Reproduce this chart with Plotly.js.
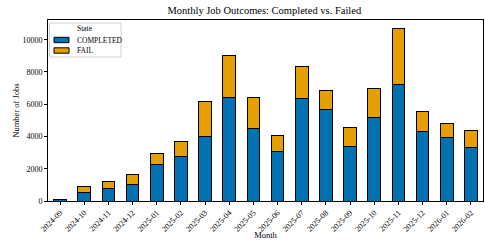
<!DOCTYPE html>
<html>
<head>
<meta charset="utf-8">
<script src="https://cdn.plot.ly/plotly-3.0.1.min.js"></script>
<style>html,body{margin:0;padding:0;background:#fff;}#chart{width:485px;height:240px;}</style>
</head>
<body>
<div id="chart"></div>
<script>
const months = ["2024-09","2024-10","2024-11","2024-12","2025-01","2025-02","2025-03","2025-04","2025-05","2025-06","2025-07","2025-08","2025-09","2025-10","2025-11","2025-12","2026-01","2026-02"];
const completed = [95,510,785,1030,2270,2745,3980,6410,4510,3070,6330,5650,3380,5200,7235,4290,3960,3340];
const failed = [25,375,450,600,680,925,2160,2600,1880,990,1990,1215,1195,1745,3440,1235,820,1030];
const yTicks = [0,2000,4000,6000,8000,10000];
const seriesNames = ["COMPLETED","FAIL"];
const seriesColors = ["#0072B2","#E69F00"];

const font = "Liberation Serif, Times New Roman, serif";
const M = {l:48, r:2, t:20, b:39};
const W = 485, H = 240;
const pw = W - M.l - M.r, ph = H - M.t - M.b;
const px = v => (v - M.l) / pw;
const py = v => (H - M.b - v) / ph;

const traces = [completed, failed].map((vals, i) => ({
  type:"bar", name:seriesNames[i], x:months, y:vals, width:0.53,
  marker:{color:seriesColors[i], line:{color:"#000", width:1}}
}));

// hand-drawn compact legend (matplotlib style)
const shapes = [
  {type:"rect", xref:"paper", yref:"paper", x0:px(49.5), x1:px(121), y0:py(23), y1:py(57),
   line:{color:"#d0d0d0", width:1}, fillcolor:"rgba(255,255,255,0.85)", layer:"above"}
];
const annotations = [
  {xref:"paper", yref:"paper", x:px(85), y:py(29), text:"State", showarrow:false,
   xanchor:"center", yanchor:"middle", font:{family:font, size:7.5, color:"#000"}}
];
seriesNames.forEach((n, i) => {
  const yc = 40 + i * 10.5;
  shapes.push({type:"rect", xref:"paper", yref:"paper", x0:px(54), x1:px(69), y0:py(yc-2.7), y1:py(yc+2.7),
    line:{color:"#000", width:1}, fillcolor:seriesColors[i], layer:"above"});
  annotations.push({xref:"paper", yref:"paper", x:px(75), y:py(yc), text:n, showarrow:false,
    xanchor:"left", yanchor:"middle", font:{family:font, size:7.5, color:"#000"}});
});

const layout = {
  width:W, height:H,
  margin:M,
  barmode:"stack",
  showlegend:false,
  paper_bgcolor:"#fff", plot_bgcolor:"#fff",
  font:{family:font, size:8, color:"#000"},
  title:{text:"Monthly Job Outcomes: Completed vs. Failed", font:{family:font, size:10.5, color:"#000"}, x:0.545, xanchor:"center", y:0.955, yanchor:"middle"},
  xaxis:{type:"category", range:[-0.5,17.5], tickangle:-45, ticks:"outside", ticklen:3, tickcolor:"#000",
         showline:true, mirror:true, linecolor:"#000", linewidth:1, showgrid:false,
         tickfont:{family:font, size:8},
         title:{text:"Month", font:{family:font, size:8.5}, standoff:0}},
  yaxis:{range:[0,11221], tickvals:yTicks, ticktext:yTicks.map(String), ticks:"outside", ticklen:3, tickcolor:"#000",
         showline:true, mirror:true, linecolor:"#000", linewidth:1, showgrid:false, zeroline:false,
         tickfont:{family:font, size:8},
         title:{text:"Number of Jobs", font:{family:font, size:8.5}, standoff:1}},
  shapes:shapes,
  annotations:annotations
};
Plotly.newPlot("chart", traces, layout, {displayModeBar:false, staticPlot:true});
</script>
</body>
</html>
